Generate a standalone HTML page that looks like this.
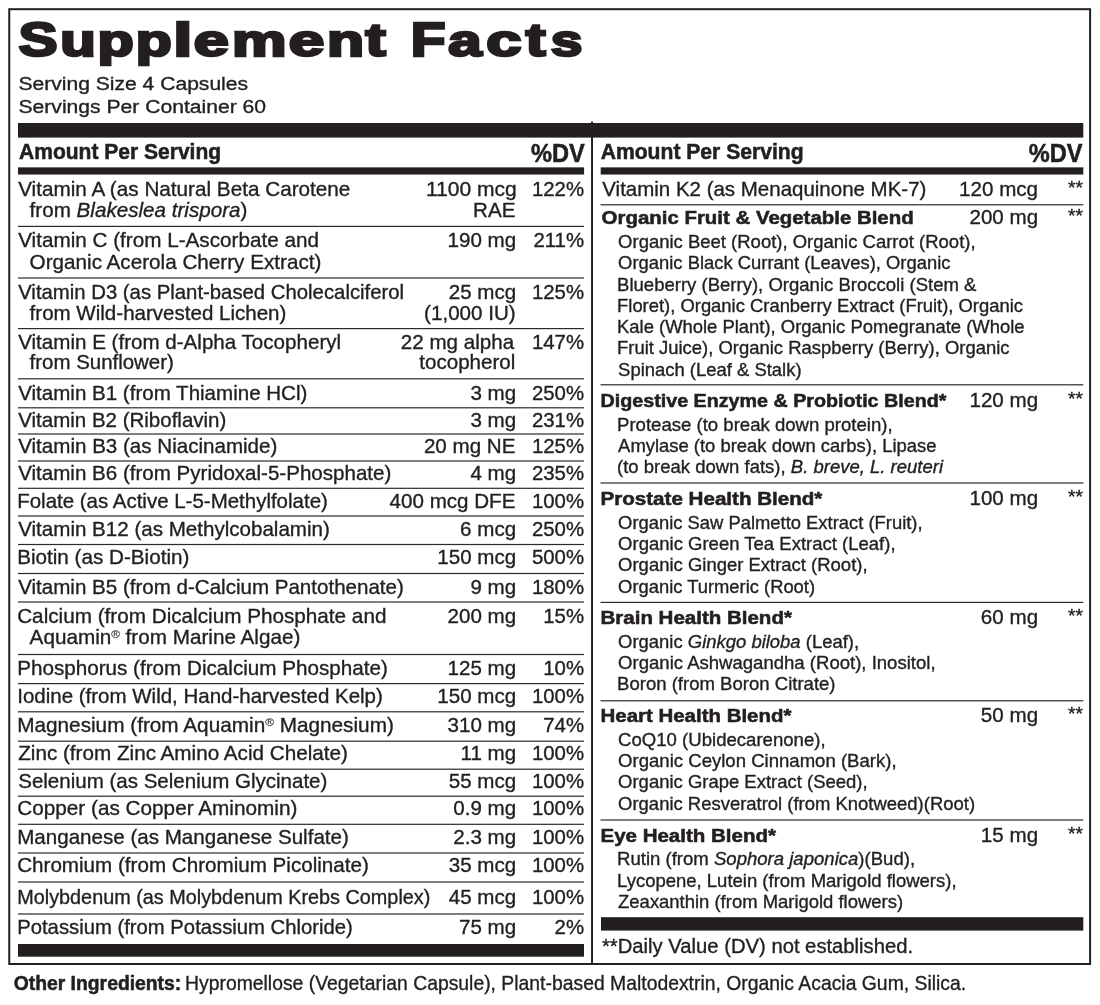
<!DOCTYPE html>
<html lang="en"><head><meta charset="utf-8"><title>Supplement Facts</title>
<style>
html,body{margin:0;padding:0;background:#fff}
svg{display:block}
text{font-family:"Liberation Sans",sans-serif;fill:#231f20;stroke:#231f20;stroke-width:0.35px;white-space:pre}
text.ttl{stroke-width:2.6px;stroke-linejoin:miter}
.b{stroke-width:0.55px}
</style></head><body>
<svg width="1100" height="1005" viewBox="0 0 1100 1005">
<rect width="1100" height="1005" fill="#ffffff"/>
<rect x="9.25" y="9.2" width="1080.85" height="954.8" fill="none" stroke="#231f20" stroke-width="2"/>
<rect x="591.05" y="121.5" width="1.95" height="842.5" fill="#231f20"/>
<rect x="18" y="123" width="1065.3" height="14.6" fill="#231f20"/>
<rect x="18" y="167.35" width="566.1" height="7.2" fill="#231f20"/>
<rect x="600.7" y="167.35" width="482.6" height="7.2" fill="#231f20"/>
<rect x="18" y="225.8" width="566" height="1.2" fill="#2e2a2b"/>
<rect x="18" y="277.4" width="566" height="1.2" fill="#2e2a2b"/>
<rect x="18" y="328.0" width="566" height="1.2" fill="#2e2a2b"/>
<rect x="18" y="378.2" width="566" height="1.2" fill="#2e2a2b"/>
<rect x="18" y="407.2" width="566" height="1.2" fill="#2e2a2b"/>
<rect x="18" y="433.4" width="566" height="1.2" fill="#2e2a2b"/>
<rect x="18" y="460.4" width="566" height="1.2" fill="#2e2a2b"/>
<rect x="18" y="487.7" width="566" height="1.2" fill="#2e2a2b"/>
<rect x="18" y="515.4" width="566" height="1.2" fill="#2e2a2b"/>
<rect x="18" y="543.9" width="566" height="1.2" fill="#2e2a2b"/>
<rect x="18" y="572.9" width="566" height="1.2" fill="#2e2a2b"/>
<rect x="18" y="601.4" width="566" height="1.2" fill="#2e2a2b"/>
<rect x="18" y="653.9" width="566" height="1.2" fill="#2e2a2b"/>
<rect x="18" y="683.0" width="566" height="1.2" fill="#2e2a2b"/>
<rect x="18" y="711.2" width="566" height="1.2" fill="#2e2a2b"/>
<rect x="18" y="740.6" width="566" height="1.2" fill="#2e2a2b"/>
<rect x="18" y="768.6" width="566" height="1.2" fill="#2e2a2b"/>
<rect x="18" y="795.6" width="566" height="1.2" fill="#2e2a2b"/>
<rect x="18" y="823.7" width="566" height="1.2" fill="#2e2a2b"/>
<rect x="18" y="852.4" width="566" height="1.2" fill="#2e2a2b"/>
<rect x="18" y="881.4" width="566" height="1.2" fill="#2e2a2b"/>
<rect x="18" y="913.4" width="566" height="1.2" fill="#2e2a2b"/>
<rect x="18" y="944" width="566" height="12.7" fill="#231f20"/>
<rect x="600.5" y="204.2" width="482.8" height="1.2" fill="#2e2a2b"/>
<rect x="600.5" y="384.2" width="482.8" height="1.2" fill="#2e2a2b"/>
<rect x="600.5" y="482.4" width="482.8" height="1.2" fill="#2e2a2b"/>
<rect x="600.5" y="601.8" width="482.8" height="1.2" fill="#2e2a2b"/>
<rect x="600.5" y="700.2" width="482.8" height="1.2" fill="#2e2a2b"/>
<rect x="600.5" y="819.4" width="482.8" height="1.2" fill="#2e2a2b"/>
<rect x="601" y="917.2" width="482.3" height="13.4" fill="#231f20"/>
<text y="55.6" font-weight="700" class="ttl"><tspan x="18.50" font-size="48.8" textLength="39.17" lengthAdjust="spacingAndGlyphs">S</tspan><tspan x="60.32" font-size="45" textLength="35.50" lengthAdjust="spacingAndGlyphs">u</tspan><tspan x="97.47" font-size="45" textLength="36.19" lengthAdjust="spacingAndGlyphs">p</tspan><tspan x="135.88" font-size="45" textLength="35.96" lengthAdjust="spacingAndGlyphs">p</tspan><tspan x="173.33" font-size="47" textLength="19.03" lengthAdjust="spacingAndGlyphs">l</tspan><tspan x="193.70" font-size="45" textLength="35.04" lengthAdjust="spacingAndGlyphs">e</tspan><tspan x="231.98" font-size="45" textLength="54.46" lengthAdjust="spacingAndGlyphs">m</tspan><tspan x="288.88" font-size="45" textLength="35.47" lengthAdjust="spacingAndGlyphs">e</tspan><tspan x="326.90" font-size="45" textLength="37.05" lengthAdjust="spacingAndGlyphs">n</tspan><tspan x="365.60" font-size="45.3" textLength="20.21" lengthAdjust="spacingAndGlyphs">t</tspan> <tspan x="410.69" font-size="48.8" textLength="34.85" lengthAdjust="spacingAndGlyphs">F</tspan><tspan x="448.17" font-size="45" textLength="33.34" lengthAdjust="spacingAndGlyphs">a</tspan><tspan x="486.20" font-size="45" textLength="35.15" lengthAdjust="spacingAndGlyphs">c</tspan><tspan x="525.80" font-size="45.3" textLength="19.81" lengthAdjust="spacingAndGlyphs">t</tspan><tspan x="550.83" font-size="45" textLength="31.66" lengthAdjust="spacingAndGlyphs">s</tspan></text>
<text x="18.50" y="89.5" font-size="18.8" textLength="229.54" lengthAdjust="spacingAndGlyphs">Serving Size 4 Capsules</text>
<text x="18.50" y="112.5" font-size="18.8" textLength="247.60" lengthAdjust="spacingAndGlyphs">Servings Per Container 60</text>
<text x="19.00" y="158.8" font-size="22.2" font-weight="700" class="b" textLength="202.12" lengthAdjust="spacingAndGlyphs">Amount Per Serving</text>
<text x="531.00" y="161.8" font-size="25.3" font-weight="700" class="b" textLength="53.78" lengthAdjust="spacingAndGlyphs">%DV</text>
<text x="600.70" y="158.8" font-size="22.2" font-weight="700" class="b" textLength="202.93" lengthAdjust="spacingAndGlyphs">Amount Per Serving</text>
<text x="1028.70" y="161.8" font-size="25.3" font-weight="700" class="b" textLength="53.68" lengthAdjust="spacingAndGlyphs">%DV</text>
<text x="18.20" y="196" font-size="20.3" textLength="332.18" lengthAdjust="spacingAndGlyphs">Vitamin A (as Natural Beta Carotene</text>
<text x="29.60" y="217" font-size="20.3" textLength="217.77" lengthAdjust="spacingAndGlyphs">from <tspan font-style="italic">Blakeslea trispora</tspan>)</text>
<text x="425.96" y="196" font-size="20.3" textLength="90.87" lengthAdjust="spacingAndGlyphs">1100 mcg</text>
<text x="473.11" y="217" font-size="20.3" textLength="42.33" lengthAdjust="spacingAndGlyphs">RAE</text>
<text x="531.90" y="196" font-size="20.3" textLength="52.13" lengthAdjust="spacingAndGlyphs">122%</text>
<text x="18.20" y="247.4" font-size="20.3" textLength="300.70" lengthAdjust="spacingAndGlyphs">Vitamin C (from L-Ascorbate and</text>
<text x="29.60" y="269" font-size="20.3" textLength="291.77" lengthAdjust="spacingAndGlyphs">Organic Acerola Cherry Extract)</text>
<text x="447.54" y="247.4" font-size="20.3" textLength="68.66" lengthAdjust="spacingAndGlyphs">190 mg</text>
<text x="533.42" y="247.4" font-size="20.3" textLength="50.62" lengthAdjust="spacingAndGlyphs">211%</text>
<text x="18.20" y="298.6" font-size="20.3" textLength="385.91" lengthAdjust="spacingAndGlyphs">Vitamin D3 (as Plant-based Cholecalciferol</text>
<text x="29.60" y="319.5" font-size="20.3" textLength="256.76" lengthAdjust="spacingAndGlyphs">from Wild-harvested Lichen)</text>
<text x="448.69" y="298.6" font-size="20.3" textLength="67.51" lengthAdjust="spacingAndGlyphs">25 mcg</text>
<text x="424.14" y="319.5" font-size="20.3" textLength="91.53" lengthAdjust="spacingAndGlyphs">(1,000 IU)</text>
<text x="531.90" y="298.6" font-size="20.3" textLength="52.13" lengthAdjust="spacingAndGlyphs">125%</text>
<text x="18.20" y="348.8" font-size="20.3" textLength="322.91" lengthAdjust="spacingAndGlyphs">Vitamin E (from d-Alpha Tocopheryl</text>
<text x="29.60" y="369.2" font-size="20.3" textLength="144.26" lengthAdjust="spacingAndGlyphs">from Sunflower)</text>
<text x="400.87" y="348.8" font-size="20.3" textLength="113.30" lengthAdjust="spacingAndGlyphs">22 mg alpha</text>
<text x="419.28" y="369.2" font-size="20.3" textLength="96.13" lengthAdjust="spacingAndGlyphs">tocopherol</text>
<text x="531.90" y="348.8" font-size="20.3" textLength="52.13" lengthAdjust="spacingAndGlyphs">147%</text>
<text x="18.20" y="400" font-size="20.3" textLength="289.16" lengthAdjust="spacingAndGlyphs">Vitamin B1 (from Thiamine HCl)</text>
<text x="470.43" y="400" font-size="20.3" textLength="45.76" lengthAdjust="spacingAndGlyphs">3 mg</text>
<text x="531.90" y="400" font-size="20.3" textLength="52.13" lengthAdjust="spacingAndGlyphs">250%</text>
<text x="18.20" y="426.8" font-size="20.3" textLength="208.16" lengthAdjust="spacingAndGlyphs">Vitamin B2 (Riboflavin)</text>
<text x="470.43" y="426.8" font-size="20.3" textLength="45.76" lengthAdjust="spacingAndGlyphs">3 mg</text>
<text x="531.90" y="426.8" font-size="20.3" textLength="52.13" lengthAdjust="spacingAndGlyphs">231%</text>
<text x="18.20" y="453.4" font-size="20.3" textLength="259.16" lengthAdjust="spacingAndGlyphs">Vitamin B3 (as Niacinamide)</text>
<text x="423.91" y="453.4" font-size="20.3" textLength="91.53" lengthAdjust="spacingAndGlyphs">20 mg NE</text>
<text x="531.90" y="453.4" font-size="20.3" textLength="52.13" lengthAdjust="spacingAndGlyphs">125%</text>
<text x="18.20" y="480.4" font-size="20.3" textLength="373.16" lengthAdjust="spacingAndGlyphs">Vitamin B6 (from Pyridoxal-5-Phosphate)</text>
<text x="470.43" y="480.4" font-size="20.3" textLength="45.76" lengthAdjust="spacingAndGlyphs">4 mg</text>
<text x="531.90" y="480.4" font-size="20.3" textLength="52.13" lengthAdjust="spacingAndGlyphs">235%</text>
<text x="17.19" y="507.7" font-size="20.3" textLength="310.66" lengthAdjust="spacingAndGlyphs">Folate (as Active L-5-Methylfolate)</text>
<text x="389.59" y="507.7" font-size="20.3" textLength="125.84" lengthAdjust="spacingAndGlyphs">400 mcg DFE</text>
<text x="531.90" y="507.7" font-size="20.3" textLength="52.13" lengthAdjust="spacingAndGlyphs">100%</text>
<text x="18.20" y="536" font-size="20.3" textLength="311.66" lengthAdjust="spacingAndGlyphs">Vitamin B12 (as Methylcobalamin)</text>
<text x="460.14" y="536" font-size="20.3" textLength="56.06" lengthAdjust="spacingAndGlyphs">6 mcg</text>
<text x="531.90" y="536" font-size="20.3" textLength="52.13" lengthAdjust="spacingAndGlyphs">250%</text>
<text x="17.18" y="564.3" font-size="20.3" textLength="172.19" lengthAdjust="spacingAndGlyphs">Biotin (as D-Biotin)</text>
<text x="437.24" y="564.3" font-size="20.3" textLength="78.95" lengthAdjust="spacingAndGlyphs">150 mcg</text>
<text x="531.90" y="564.3" font-size="20.3" textLength="52.13" lengthAdjust="spacingAndGlyphs">500%</text>
<text x="18.20" y="594.3" font-size="20.3" textLength="385.66" lengthAdjust="spacingAndGlyphs">Vitamin B5 (from d-Calcium Pantothenate)</text>
<text x="470.43" y="594.3" font-size="20.3" textLength="45.76" lengthAdjust="spacingAndGlyphs">9 mg</text>
<text x="531.90" y="594.3" font-size="20.3" textLength="52.13" lengthAdjust="spacingAndGlyphs">180%</text>
<text x="17.18" y="623.4" font-size="20.3" textLength="369.23" lengthAdjust="spacingAndGlyphs">Calcium (from Dicalcium Phosphate and</text>
<text x="29.60" y="644.3" font-size="20.3" textLength="270.77" lengthAdjust="spacingAndGlyphs">Aquamin<tspan font-size="11.5" dy="-6.3" stroke-width="0.1">®</tspan><tspan dy="6.3"> from Marine Algae)</tspan></text>
<text x="447.54" y="623.4" font-size="20.3" textLength="68.66" lengthAdjust="spacingAndGlyphs">200 mg</text>
<text x="543.24" y="623.4" font-size="20.3" textLength="40.80" lengthAdjust="spacingAndGlyphs">15%</text>
<text x="17.18" y="674.5" font-size="20.3" textLength="370.69" lengthAdjust="spacingAndGlyphs">Phosphorus (from Dicalcium Phosphate)</text>
<text x="447.54" y="674.5" font-size="20.3" textLength="68.66" lengthAdjust="spacingAndGlyphs">125 mg</text>
<text x="543.24" y="674.5" font-size="20.3" textLength="40.80" lengthAdjust="spacingAndGlyphs">10%</text>
<text x="17.19" y="703.4" font-size="20.3" textLength="365.67" lengthAdjust="spacingAndGlyphs">Iodine (from Wild, Hand-harvested Kelp)</text>
<text x="437.24" y="703.4" font-size="20.3" textLength="78.95" lengthAdjust="spacingAndGlyphs">150 mcg</text>
<text x="531.90" y="703.4" font-size="20.3" textLength="52.13" lengthAdjust="spacingAndGlyphs">100%</text>
<text x="17.18" y="732" font-size="20.3" textLength="376.69" lengthAdjust="spacingAndGlyphs">Magnesium (from Aquamin<tspan font-size="11.5" dy="-6.3" stroke-width="0.1">®</tspan><tspan dy="6.3"> Magnesium)</tspan></text>
<text x="447.54" y="732" font-size="20.3" textLength="68.66" lengthAdjust="spacingAndGlyphs">310 mg</text>
<text x="543.24" y="732" font-size="20.3" textLength="40.80" lengthAdjust="spacingAndGlyphs">74%</text>
<text x="18.20" y="760" font-size="20.3" textLength="329.66" lengthAdjust="spacingAndGlyphs">Zinc (from Zinc Amino Acid Chelate)</text>
<text x="460.51" y="760" font-size="20.3" textLength="55.68" lengthAdjust="spacingAndGlyphs">11 mg</text>
<text x="531.90" y="760" font-size="20.3" textLength="52.13" lengthAdjust="spacingAndGlyphs">100%</text>
<text x="18.20" y="788" font-size="20.3" textLength="309.16" lengthAdjust="spacingAndGlyphs">Selenium (as Selenium Glycinate)</text>
<text x="448.69" y="788" font-size="20.3" textLength="67.51" lengthAdjust="spacingAndGlyphs">55 mcg</text>
<text x="531.90" y="788" font-size="20.3" textLength="52.13" lengthAdjust="spacingAndGlyphs">100%</text>
<text x="17.18" y="815.4" font-size="20.3" textLength="280.19" lengthAdjust="spacingAndGlyphs">Copper (as Copper Aminomin)</text>
<text x="453.27" y="815.4" font-size="20.3" textLength="62.93" lengthAdjust="spacingAndGlyphs">0.9 mg</text>
<text x="531.90" y="815.4" font-size="20.3" textLength="52.13" lengthAdjust="spacingAndGlyphs">100%</text>
<text x="17.19" y="844" font-size="20.3" textLength="331.68" lengthAdjust="spacingAndGlyphs">Manganese (as Manganese Sulfate)</text>
<text x="453.27" y="844" font-size="20.3" textLength="62.93" lengthAdjust="spacingAndGlyphs">2.3 mg</text>
<text x="531.90" y="844" font-size="20.3" textLength="52.13" lengthAdjust="spacingAndGlyphs">100%</text>
<text x="17.18" y="872" font-size="20.3" textLength="351.68" lengthAdjust="spacingAndGlyphs">Chromium (from Chromium Picolinate)</text>
<text x="448.69" y="872" font-size="20.3" textLength="67.51" lengthAdjust="spacingAndGlyphs">35 mcg</text>
<text x="531.90" y="872" font-size="20.3" textLength="52.13" lengthAdjust="spacingAndGlyphs">100%</text>
<text x="17.22" y="904.3" font-size="20.3" textLength="413.11" lengthAdjust="spacingAndGlyphs">Molybdenum (as Molybdenum Krebs Complex)</text>
<text x="448.69" y="904.3" font-size="20.3" textLength="67.51" lengthAdjust="spacingAndGlyphs">45 mcg</text>
<text x="531.90" y="904.3" font-size="20.3" textLength="52.13" lengthAdjust="spacingAndGlyphs">100%</text>
<text x="17.20" y="933.5" font-size="20.3" textLength="335.65" lengthAdjust="spacingAndGlyphs">Potassium (from Potassium Chloride)</text>
<text x="458.99" y="933.5" font-size="20.3" textLength="57.21" lengthAdjust="spacingAndGlyphs">75 mg</text>
<text x="554.57" y="933.5" font-size="20.3" textLength="29.46" lengthAdjust="spacingAndGlyphs">2%</text>
<text x="602.30" y="196" font-size="20.3" textLength="324.06" lengthAdjust="spacingAndGlyphs">Vitamin K2 (as Menaquinone MK-7)</text>
<text x="959.14" y="196" font-size="20.3" textLength="78.95" lengthAdjust="spacingAndGlyphs">120 mcg</text>
<text x="1068.00" y="193.8" font-size="18" textLength="14.91" lengthAdjust="spacingAndGlyphs">**</text>
<text x="601.60" y="224" font-size="18.9" font-weight="700" class="b" textLength="312.08" lengthAdjust="spacingAndGlyphs">Organic Fruit &amp; Vegetable Blend</text>
<text x="969.44" y="224" font-size="20.3" textLength="68.66" lengthAdjust="spacingAndGlyphs">200 mg</text>
<text x="1068.00" y="221.8" font-size="18" textLength="14.91" lengthAdjust="spacingAndGlyphs">**</text>
<text x="618.10" y="248" font-size="17.8" textLength="357.48" lengthAdjust="spacingAndGlyphs">Organic Beet (Root), Organic Carrot (Root),</text>
<text x="618.10" y="269.3" font-size="17.8" textLength="332.39" lengthAdjust="spacingAndGlyphs">Organic Black Currant (Leaves), Organic</text>
<text x="617.06" y="290.5" font-size="17.8" textLength="359.40" lengthAdjust="spacingAndGlyphs">Blueberry (Berry), Organic Broccoli (Stem &amp;</text>
<text x="617.07" y="311.6" font-size="17.8" textLength="405.92" lengthAdjust="spacingAndGlyphs">Floret), Organic Cranberry Extract (Fruit), Organic</text>
<text x="617.06" y="332.8" font-size="17.8" textLength="407.42" lengthAdjust="spacingAndGlyphs">Kale (Whole Plant), Organic Pomegranate (Whole</text>
<text x="617.06" y="354" font-size="17.8" textLength="392.42" lengthAdjust="spacingAndGlyphs">Fruit Juice), Organic Raspberry (Berry), Organic</text>
<text x="618.10" y="375.6" font-size="17.8" textLength="183.46" lengthAdjust="spacingAndGlyphs">Spinach (Leaf &amp; Stalk)</text>
<text x="600.56" y="407" font-size="18.9" font-weight="700" class="b" textLength="345.87" lengthAdjust="spacingAndGlyphs">Digestive Enzyme &amp; Probiotic Blend*</text>
<text x="969.44" y="407" font-size="20.3" textLength="68.66" lengthAdjust="spacingAndGlyphs">120 mg</text>
<text x="1068.00" y="404.8" font-size="18" textLength="14.91" lengthAdjust="spacingAndGlyphs">**</text>
<text x="617.06" y="430.6" font-size="17.8" textLength="275.53" lengthAdjust="spacingAndGlyphs">Protease (to break down protein),</text>
<text x="618.10" y="452.2" font-size="17.8" textLength="318.39" lengthAdjust="spacingAndGlyphs">Amylase (to break down carbs), Lipase</text>
<text x="617.06" y="473.3" font-size="17.8" textLength="325.95" lengthAdjust="spacingAndGlyphs">(to break down fats), <tspan font-style="italic">B. breve, L. reuteri</tspan></text>
<text x="600.51" y="505.3" font-size="18.9" font-weight="700" class="b" textLength="221.88" lengthAdjust="spacingAndGlyphs">Prostate Health Blend*</text>
<text x="969.44" y="505.3" font-size="20.3" textLength="68.66" lengthAdjust="spacingAndGlyphs">100 mg</text>
<text x="1068.00" y="503.1" font-size="18" textLength="14.91" lengthAdjust="spacingAndGlyphs">**</text>
<text x="618.10" y="529.3" font-size="17.8" textLength="304.47" lengthAdjust="spacingAndGlyphs">Organic Saw Palmetto Extract (Fruit),</text>
<text x="618.10" y="550.3" font-size="17.8" textLength="277.48" lengthAdjust="spacingAndGlyphs">Organic Green Tea Extract (Leaf),</text>
<text x="618.10" y="571.3" font-size="17.8" textLength="249.48" lengthAdjust="spacingAndGlyphs">Organic Ginger Extract (Root),</text>
<text x="618.10" y="592.5" font-size="17.8" textLength="196.95" lengthAdjust="spacingAndGlyphs">Organic Turmeric (Root)</text>
<text x="600.51" y="624.2" font-size="18.9" font-weight="700" class="b" textLength="191.38" lengthAdjust="spacingAndGlyphs">Brain Health Blend*</text>
<text x="980.89" y="624.2" font-size="20.3" textLength="57.21" lengthAdjust="spacingAndGlyphs">60 mg</text>
<text x="1068.00" y="622.0" font-size="18" textLength="14.91" lengthAdjust="spacingAndGlyphs">**</text>
<text x="618.10" y="647.5" font-size="17.8" textLength="240.98" lengthAdjust="spacingAndGlyphs">Organic <tspan font-style="italic">Ginkgo biloba</tspan> (Leaf),</text>
<text x="618.10" y="669" font-size="17.8" textLength="317.48" lengthAdjust="spacingAndGlyphs">Organic Ashwagandha (Root), Inositol,</text>
<text x="617.06" y="690.3" font-size="17.8" textLength="218.50" lengthAdjust="spacingAndGlyphs">Boron (from Boron Citrate)</text>
<text x="600.52" y="722.4" font-size="18.9" font-weight="700" class="b" textLength="190.88" lengthAdjust="spacingAndGlyphs">Heart Health Blend*</text>
<text x="980.89" y="722.4" font-size="20.3" textLength="57.21" lengthAdjust="spacingAndGlyphs">50 mg</text>
<text x="1068.00" y="720.1999999999999" font-size="18" textLength="14.91" lengthAdjust="spacingAndGlyphs">**</text>
<text x="618.10" y="746.3" font-size="17.8" textLength="207.48" lengthAdjust="spacingAndGlyphs">CoQ10 (Ubidecarenone),</text>
<text x="618.10" y="767.4" font-size="17.8" textLength="278.48" lengthAdjust="spacingAndGlyphs">Organic Ceylon Cinnamon (Bark),</text>
<text x="618.10" y="788.4" font-size="17.8" textLength="249.48" lengthAdjust="spacingAndGlyphs">Organic Grape Extract (Seed),</text>
<text x="618.10" y="809.7" font-size="17.8" textLength="356.96" lengthAdjust="spacingAndGlyphs">Organic Resveratrol (from Knotweed)(Root)</text>
<text x="600.52" y="842" font-size="18.9" font-weight="700" class="b" textLength="175.38" lengthAdjust="spacingAndGlyphs">Eye Health Blend*</text>
<text x="980.89" y="842" font-size="20.3" textLength="57.21" lengthAdjust="spacingAndGlyphs">15 mg</text>
<text x="1068.00" y="839.8" font-size="18" textLength="14.91" lengthAdjust="spacingAndGlyphs">**</text>
<text x="617.06" y="865" font-size="17.8" textLength="298.02" lengthAdjust="spacingAndGlyphs">Rutin (from <tspan font-style="italic">Sophora japonica</tspan>)(Bud),</text>
<text x="617.06" y="886.8" font-size="17.8" textLength="339.52" lengthAdjust="spacingAndGlyphs">Lycopene, Lutein (from Marigold flowers),</text>
<text x="618.10" y="908.4" font-size="17.8" textLength="284.96" lengthAdjust="spacingAndGlyphs">Zeaxanthin (from Marigold flowers)</text>
<text x="602.00" y="952.5" font-size="19.6" textLength="311.09" lengthAdjust="spacingAndGlyphs">**Daily Value (DV) not established.</text>
<text x="13.70" y="990" font-size="20.3" font-weight="700" class="b" textLength="167.57" lengthAdjust="spacingAndGlyphs">Other Ingredients:</text>
<text x="185.05" y="990" font-size="20.3" textLength="781.11" lengthAdjust="spacingAndGlyphs">Hypromellose (Vegetarian Capsule), Plant-based Maltodextrin, Organic Acacia Gum, Silica.</text>
</svg>
</body></html>
